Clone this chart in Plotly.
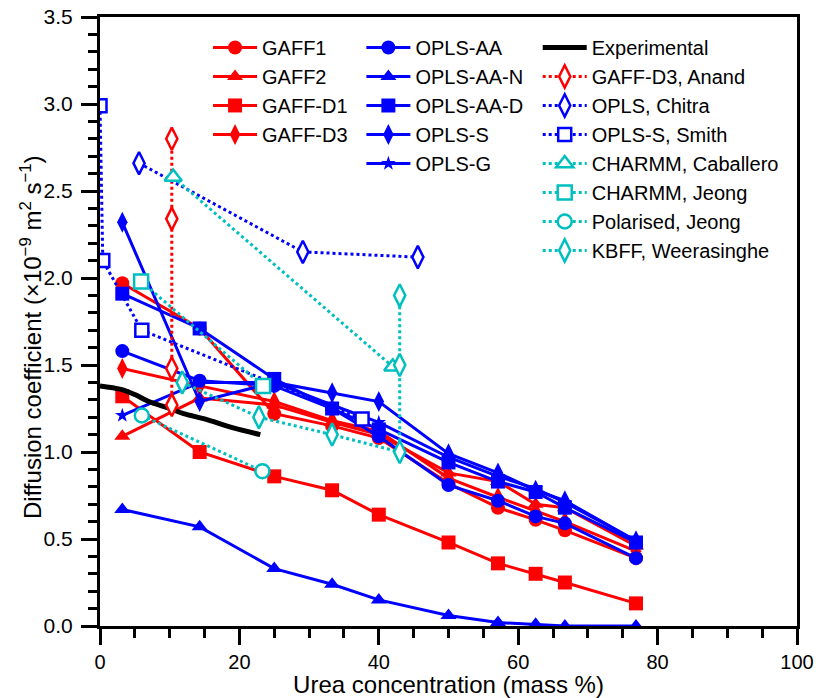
import plotly.graph_objects as go

# ---------------- data ----------------
x_sim = [3.2, 14.3, 25.0, 33.3, 40.0, 50.0, 57.1, 62.5, 66.7, 76.9]
gaff1 = [1.97, 1.71, 1.22, 1.15, 1.08, 0.82, 0.68, 0.61, 0.55, 0.39]
gaff2 = [1.09, 1.31, 1.27, 1.17, 1.10, 0.88, 0.83, 0.70, 0.68, 0.46]
gaffd1 = [1.32, 1.00, 0.86, 0.78, 0.64, 0.48, 0.36, 0.30, 0.25, 0.13]
gaffd3 = [1.48, 1.38, 1.29, 1.18, 1.12, 0.85, 0.74, 0.66, 0.60, 0.43]
oplsaa = [1.58, 1.41, 1.38, 1.25, 1.09, 0.81, 0.72, 0.63, 0.59, 0.39]
oplsaan = [0.67, 0.57, 0.33, 0.24, 0.15, 0.06, 0.02, 0.01, 0.0, 0.0]
oplsaad = [1.91, 1.71, 1.42, 1.25, 1.13, 0.94, 0.83, 0.77, 0.68, 0.48]
oplss = [2.32, 1.29, 1.40, 1.34, 1.29, 0.99, 0.88, 0.78, 0.72, 0.49]
oplsg = [1.21, 1.40, 1.40, 1.27, 1.17, 0.97, 0.86, 0.79, 0.71, 0.49]

exp_x = [0, 3, 5, 7, 10, 12, 15, 19, 23]
exp_y = [1.38, 1.36, 1.33, 1.29, 1.25, 1.22, 1.19, 1.14, 1.10]

anand_x = [10.3, 10.3, 10.3, 10.3]
anand_y = [2.80, 2.34, 1.48, 1.27]
chitra_x = [5.6, 29.1, 45.6]
chitra_y = [2.66, 2.15, 2.12]
smith_x = [0.0, 0.4, 6.0, 37.6]
smith_y = [2.99, 2.10, 1.70, 1.19]
caballero_x = [10.5, 42.0]
caballero_y = [2.58, 1.49]
jeong_c_x = [5.9, 23.4]
jeong_c_y = [1.98, 1.38]
jeong_p_x = [6.0, 23.3]
jeong_p_y = [1.21, 0.89]
kbff_x = [11.8, 22.8, 33.3, 43.0, 43.0, 43.0]
kbff_y = [1.40, 1.20, 1.10, 1.00, 1.50, 1.90]

y_title = "Diffusion coefficient (×10<sup>−9</sup> m<sup>2</sup> s<sup>−1</sup>)"
x_title = "Urea concentration (mass %)"

RED = "#ff0000"
BLUE = "#0000ff"
CYAN = "#00bfbf"
FONT = "Arial, Liberation Sans, sans-serif"

fig = go.Figure()

def sim(name, y, color, symbol, size, legend):
    fig.add_trace(go.Scatter(
        x=x_sim, y=y, name=name, mode="lines+markers", legend=legend,
        line=dict(color=color, width=3),
        marker=dict(color=color, symbol=symbol, size=size),
    ))

sim("GAFF1", gaff1, RED, "circle", 14, "legend")
sim("GAFF2", gaff2, RED, "triangle-up", 14, "legend")
sim("GAFF-D1", gaffd1, RED, "square", 14, "legend")
sim("GAFF-D3", gaffd3, RED, "diamond-tall", 15, "legend")
sim("OPLS-AA", oplsaa, BLUE, "circle", 14, "legend2")
sim("OPLS-AA-N", oplsaan, BLUE, "triangle-up", 14, "legend2")
sim("OPLS-AA-D", oplsaad, BLUE, "square", 14, "legend2")
sim("OPLS-S", oplss, BLUE, "diamond-tall", 15, "legend2")
sim("OPLS-G", oplsg, BLUE, "star", 11, "legend2")

fig.add_trace(go.Scatter(x=exp_x, y=exp_y, name="Experimental", mode="lines",
                         legend="legend3", line=dict(color="black", width=5, shape="spline")))

def lit(name, x, y, color, symbol, size):
    fig.add_trace(go.Scatter(
        x=x, y=y, name=name, mode="lines+markers", legend="legend3",
        line=dict(color=color, width=3, dash="dot"),
        marker=dict(color="white", symbol=symbol, size=size,
                    line=dict(color=color, width=2.5)),
    ))

lit("GAFF-D3, Anand", anand_x, anand_y, RED, "diamond-tall", 16)
lit("OPLS, Chitra", chitra_x, chitra_y, BLUE, "diamond-tall", 16)
lit("OPLS-S, Smith", smith_x, smith_y, BLUE, "square", 13)
lit("CHARMM, Caballero", caballero_x, caballero_y, CYAN, "triangle-up", 15)
lit("CHARMM, Jeong", jeong_c_x, jeong_c_y, CYAN, "square", 14)
lit("Polarised, Jeong", jeong_p_x, jeong_p_y, CYAN, "circle", 14)
lit("KBFF, Weerasinghe", kbff_x, kbff_y, CYAN, "diamond-tall", 16)

leg_common = dict(font=dict(family=FONT, size=20, color="black"),
                  bgcolor="rgba(0,0,0,0)", borderwidth=0, itemwidth=44,
                  yanchor="top", xanchor="left", tracegroupgap=0)

fig.update_layout(
    width=816, height=698,
    margin=dict(l=100, r=19, t=17, b=72),
    paper_bgcolor="white", plot_bgcolor="white",
    font=dict(family=FONT, size=20, color="black"),
    legend=dict(x=0.155, y=0.982, **leg_common),
    legend2=dict(x=0.375, y=0.982, **leg_common),
    legend3=dict(x=0.628, y=0.982, **leg_common),
    xaxis=dict(
        range=[0, 100], dtick=20, tick0=0, automargin=False,
        showgrid=False, zeroline=False,
        showline=True, linecolor="black", linewidth=3, mirror=True,
        ticks="outside", ticklen=16, tickwidth=2.5, tickcolor="black",
        minor=dict(dtick=5, ticks="outside", ticklen=9, tickwidth=2.5, tickcolor="black"),
        tickfont=dict(size=20),
        title=dict(text=x_title, font=dict(size=24), standoff=4),
    ),
    yaxis=dict(
        range=[0, 3.5], dtick=0.5, tick0=0, tickformat=".1f", automargin=False,
        showgrid=False, zeroline=False,
        showline=True, linecolor="black", linewidth=3, mirror=True,
        ticks="outside", ticklen=16, tickwidth=2.5, tickcolor="black",
        minor=dict(dtick=0.1, ticks="outside", ticklen=9, tickwidth=2.5, tickcolor="black"),
        tickfont=dict(size=21), ticklabelstandoff=4,
    ),
    annotations=[dict(
        text=y_title, textangle=-90, showarrow=False,
        xref="paper", yref="paper", x=-0.1, y=0.475,
        xanchor="center", yanchor="middle",
        font=dict(family=FONT, size=24, color="black"),
    )],
)

fig.write_html("out.html")
